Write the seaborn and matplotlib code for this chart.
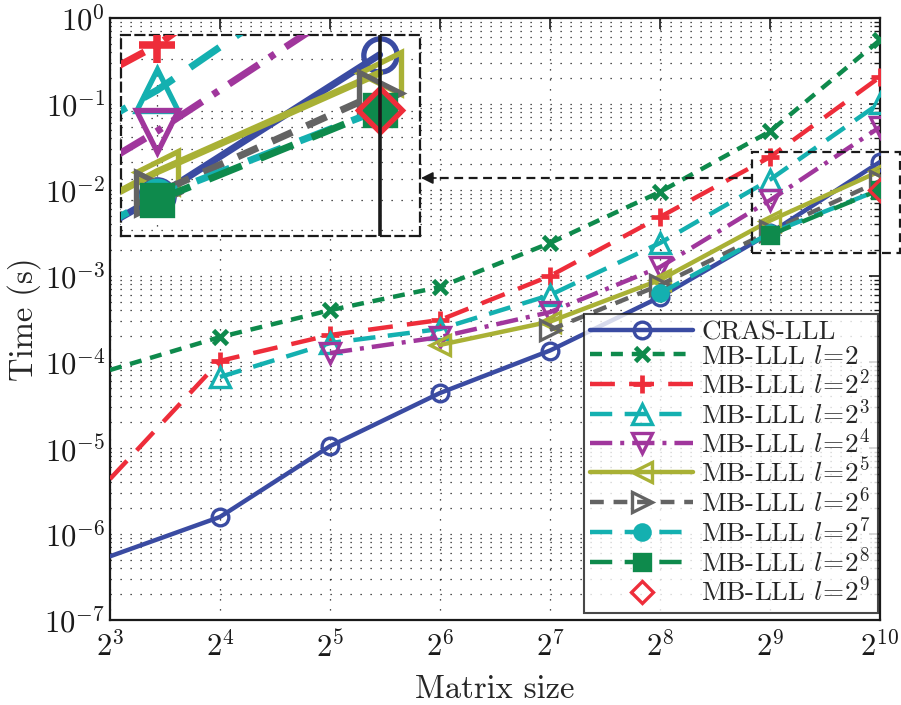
import numpy as np
import pandas as pd
import matplotlib
matplotlib.use("Agg")
import matplotlib.pyplot as plt
import seaborn as sns
from matplotlib.lines import Line2D
from matplotlib.patches import Rectangle
from matplotlib.ticker import FixedLocator, FixedFormatter, NullFormatter, LogLocator

# ---------------- data ----------------
sizes = [8, 16, 32, 64, 128, 256, 512, 1024]
nan = np.nan
cras_lll = [5.5e-7, 1.58e-6, 1.05e-5, 4.36e-5, 1.36e-4, 5.7e-4, 3.15e-3, 0.0212]
mb_l2    = [8.07e-5, 1.95e-4, 4.0e-4, 7.45e-4, 2.42e-3, 9.5e-3, 0.048, 0.555]
mb_l4    = [4.36e-6, 1.03e-4, 2.06e-4, 3.08e-4, 1.0e-3, 4.85e-3, 0.0242, 0.206]
mb_l8    = [nan, 6.7e-5, 1.66e-4, 2.42e-4, 6.0e-4, 2.42e-3, 0.0132, 0.103]
mb_l16   = [nan, nan, 1.27e-4, 1.95e-4, 3.8e-4, 1.27e-3, 7.6e-3, 0.054]
mb_l32   = [nan, nan, nan, 1.58e-4, 2.95e-4, 9.0e-4, 4.4e-3, 0.0166]
mb_l64   = [nan, nan, nan, nan, 2.36e-4, 7.86e-4, 3.3e-3, 0.0127]
mb_l128  = [nan, nan, nan, nan, nan, 6.3e-4, 3.15e-3, 0.0101]
mb_l256  = [nan, nan, nan, nan, nan, nan, 3.0e-3, 0.0101]
mb_l512  = [nan, nan, nan, nan, nan, nan, nan, 0.0101]

labels = ["CRAS-LLL", r"MB-LLL $l\!=\!2$", r"MB-LLL $l\!=\!2^2$", r"MB-LLL $l\!=\!2^3$",
          r"MB-LLL $l\!=\!2^4$", r"MB-LLL $l\!=\!2^5$", r"MB-LLL $l\!=\!2^6$",
          r"MB-LLL $l\!=\!2^7$", r"MB-LLL $l\!=\!2^8$", r"MB-LLL $l\!=\!2^9$"]
all_series = [cras_lll, mb_l2, mb_l4, mb_l8, mb_l16, mb_l32, mb_l64, mb_l128, mb_l256, mb_l512]

xtick_vals = [8, 16, 32, 64, 128, 256, 512, 1024]
xtick_labels = [r"$2^{3}$", r"$2^{4}$", r"$2^{5}$", r"$2^{6}$", r"$2^{7}$", r"$2^{8}$", r"$2^{9}$", r"$2^{10}$"]
ytick_vals = [1e-7, 1e-6, 1e-5, 1e-4, 1e-3, 1e-2, 1e-1, 1e0]
ytick_labels = [r"$10^{-7}$", r"$10^{-6}$", r"$10^{-5}$", r"$10^{-4}$", r"$10^{-3}$",
                r"$10^{-2}$", r"$10^{-1}$", r"$10^{0}$"]

# ---------------- styles ----------------
colors = ["#3a4ba2", "#0e8a4c", "#ee2d3a", "#14b0b0", "#a0369c", "#a9b135",
          "#636363", "#14b0b0", "#0e8a4c", "#ee2d3a"]
linestyles = ["-", (0, (2.7, 2.0)), (0, (5.6, 3.2)), (0, (5.0, 2.8)), (0, (5.0, 1.8, 0.9, 1.8)), "-",
              (0, (3.1, 2.2)), (0, (5.0, 2.8)), (0, (5.0, 2.8)), "none"]
markers = ["o", "x", "+", "^", "v", "<", ">", "o", "s", "D"]
msizes = [12, 10, 13, 15, 15, 15, 15, 11, 11, 11]
filled = [False, True, True, False, False, False, False, True, True, False]
mews = [2.4, 3.4, 3.4, 2.4, 2.4, 2.4, 2.4, 2.4, 2.4, 2.4]
skip_first = [True, True, True, False, False, False, False, False, False, False]
LW = 3.2

sns.set_theme(style="white")
plt.rcParams.update({
    "font.family": "serif",
    "font.serif": ["cmr10", "DejaVu Serif"],
    "mathtext.fontset": "cm",
    "axes.unicode_minus": False,
    "axes.formatter.use_mathtext": True,
})

fig = plt.figure(figsize=(9.01, 7.05), dpi=100)
ax = fig.add_axes([110 / 901, 1 - 620 / 705, 770 / 901, 602 / 705])


def draw(axis, lscale, mscale, with_labels):
    for i, vals in enumerate(all_series):
        df = pd.DataFrame({"size": sizes, "time": vals}).dropna()
        me = slice(1, None) if (skip_first[i] and mscale == 1) else None
        mfc = colors[i] if filled[i] else "none"
        sns.lineplot(data=df, x="size", y="time", ax=axis, color=colors[i],
                     linestyle=linestyles[i], linewidth=LW * lscale,
                     marker=markers[i], markersize=msizes[i] * mscale,
                     markerfacecolor=mfc, markeredgecolor=colors[i],
                     markeredgewidth=mews[i] * lscale, markevery=me,
                     label=labels[i] if with_labels else "_nolegend_",
                     legend=False, sort=False, estimator=None, zorder=3)


def style_axis(axis):
    axis.set_xscale("log", base=2)
    axis.set_yscale("log")


def add_grid(axis):
    axis.xaxis.set_minor_locator(FixedLocator([]))
    axis.grid(True, which="major", axis="x", color="k", linestyle=(0, (1, 7)), linewidth=0.9)
    axis.grid(True, which="both", axis="y", color="k", linestyle=(0, (1, 7)), linewidth=0.9)


style_axis(ax)
draw(ax, 1, 1, True)
ax.set_xlim(8, 1024)
ax.set_ylim(1e-7, 1)
ax.xaxis.set_major_locator(FixedLocator(xtick_vals))
ax.xaxis.set_major_formatter(FixedFormatter(xtick_labels))
ax.yaxis.set_major_locator(FixedLocator(ytick_vals))
ax.yaxis.set_major_formatter(FixedFormatter(ytick_labels))
ax.yaxis.set_minor_locator(LogLocator(base=10, subs=np.arange(2, 10), numticks=20))
ax.yaxis.set_minor_formatter(NullFormatter())
add_grid(ax)
ax.tick_params(which="both", direction="in", top=True, right=True, colors="k", labelsize=22)
ax.tick_params(which="major", length=8, width=1.2)
ax.tick_params(which="minor", length=4, width=1.0)
ax.tick_params(axis="x", pad=8)
for sp in ax.spines.values():
    sp.set_color("k")
    sp.set_linewidth(1.6)
ax.set_xlabel("Matrix size", fontsize=23.5, labelpad=8)
ax.set_ylabel("Time (s)", fontsize=23.5, labelpad=2)

leg = ax.legend(loc="lower right", bbox_to_anchor=(0.997, 0.012), fontsize=19.5,
                handlelength=3.8, labelspacing=0.0, borderpad=0.25,
                handletextpad=0.3, frameon=True, fancybox=False, borderaxespad=0.0)
leg.get_frame().set_edgecolor("k")
leg.get_frame().set_linewidth(1.5)
leg.set_zorder(10)

# magnified region (data-space limits derived from the zoom window)
zx0, zx1 = 2 ** 8.836, 2 ** 10.182
zy0, zy1 = 10 ** -2.733, 10 ** -1.558
rect = Rectangle((zx0, zy0), zx1 - zx0, zy1 - zy0, fill=False, edgecolor="k",
                 linestyle=(0, (4, 2.5)), linewidth=1.6, clip_on=False, zorder=6)
ax.add_patch(rect)

axin = fig.add_axes([121 / 901, 1 - 236 / 705, 299 / 901, 201 / 705])
axin.set_facecolor("white")
style_axis(axin)
draw(axin, 1.6, 2, False)
axin.axvline(1024, color="k", linewidth=2.6, zorder=4)
axin.set_xlim(zx0, zx1)
axin.set_ylim(zy0, zy1)
axin.yaxis.set_minor_locator(LogLocator(base=10, subs=np.arange(2, 10), numticks=20))
axin.set_xticks([512, 1024])
add_grid(axin)
axin.tick_params(which="both", length=0, labelbottom=False, labelleft=False)
axin.yaxis.set_major_formatter(NullFormatter())
axin.yaxis.set_minor_formatter(NullFormatter())
axin.xaxis.set_major_formatter(NullFormatter())
axin.set_xlabel("")
axin.set_ylabel("")
for sp in axin.spines.values():
    sp.set_color("k")
    sp.set_linewidth(1.6)
    sp.set_linestyle((0, (4, 2.5)))

# dashed arrow from zoom window to inset
ya = 1 - 178 / 705
fig.add_artist(Line2D([752 / 901, 432 / 901], [ya, ya], color="k", linewidth=1.6,
                      linestyle=(0, (4, 2.5)), transform=fig.transFigure))
ax.annotate("", xy=(421 / 901, ya), xycoords="figure fraction",
            xytext=(436 / 901, ya), textcoords="figure fraction",
            arrowprops=dict(arrowstyle="-|>", color="k", lw=1.2, mutation_scale=18,
                            shrinkA=0, shrinkB=0))

fig.savefig("out.png", dpi=100)
